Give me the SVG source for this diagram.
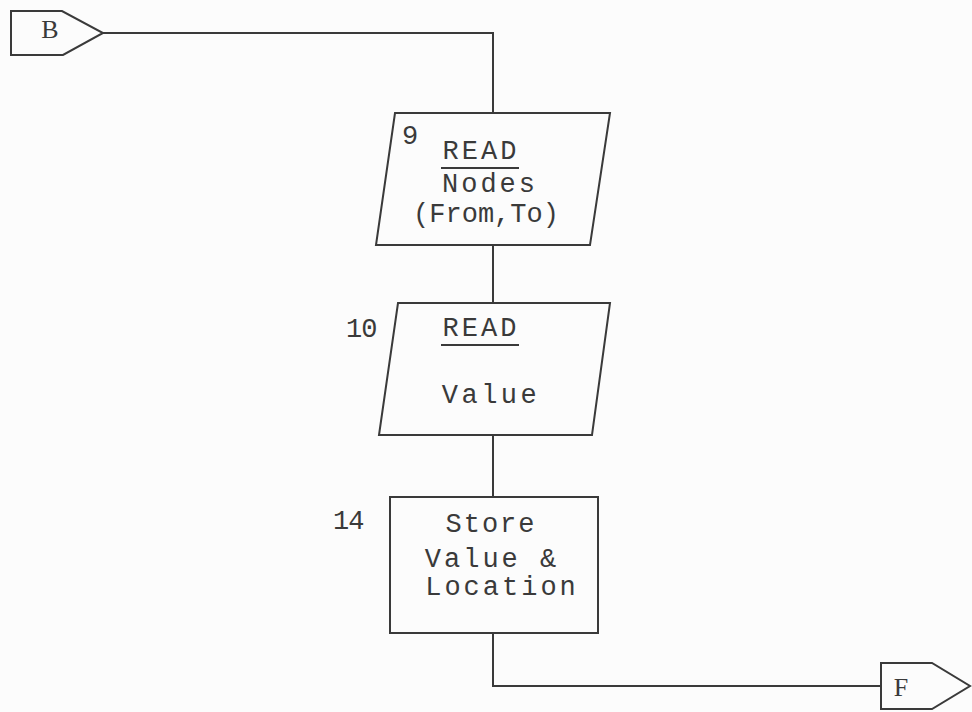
<svg xmlns="http://www.w3.org/2000/svg" width="972" height="712" viewBox="0 0 972 712">
<style>
.s{fill:none;stroke:#3a3a3a;stroke-width:2}
.t{font-family:"Liberation Mono","Courier New",monospace;font-size:27px;fill:#3a3a3a}
.m{text-anchor:middle}
.c{font-family:"Liberation Serif","Times New Roman",serif;fill:#3a3a3a;text-anchor:middle;font-size:26px}
</style>
<rect width="972" height="712" fill="#fcfcfc"/>
<g id="connectors">
<polyline class="s" points="103,33 493,33 493,113"/>
<line class="s" x1="493" y1="245" x2="493" y2="303"/>
<line class="s" x1="493" y1="435" x2="493" y2="497"/>
<polyline class="s" points="493,633 493,686 881,686"/>
</g>
<g id="B">
<polygon class="s" points="11,11 62,11 103,33 63,55 11,55"/>
<text class="c" x="50" y="38">B</text>
</g>
<g id="n9">
<polygon class="s" points="395,113 610,113 590,245 376,245"/>
<text class="t" x="402" y="144">9</text>
<text class="t m" x="481" y="159" letter-spacing="3">READ</text>
<line class="s" x1="441" y1="168" x2="519" y2="168"/>
<text class="t m" x="490" y="192" letter-spacing="3">Nodes</text>
<text class="t m" x="486" y="222" letter-spacing="0">(From,To)</text>
</g>
<g id="n10">
<polygon class="s" points="398,303 610,303 592,435 379,435"/>
<text class="t" x="346" y="337" letter-spacing="-1">10</text>
<text class="t m" x="481" y="336" letter-spacing="3">READ</text>
<line class="s" x1="441" y1="345" x2="519" y2="345"/>
<text class="t m" x="491" y="403" letter-spacing="3.5">Value</text>
</g>
<g id="n14">
<rect class="s" x="390" y="497" width="208" height="136"/>
<text class="t" x="333" y="529" letter-spacing="-1">14</text>
<text class="t m" x="491" y="532" letter-spacing="2">Store</text>
<text class="t m" x="492" y="567" letter-spacing="3">Value &amp;</text>
<text class="t m" x="502" y="595" letter-spacing="3">Location</text>
</g>
<g id="F">
<polygon class="s" points="881,663 932,663 970,686 932,709 881,709"/>
<text class="c" x="901" y="696" font-size="27">F</text>
</g>
</svg>
